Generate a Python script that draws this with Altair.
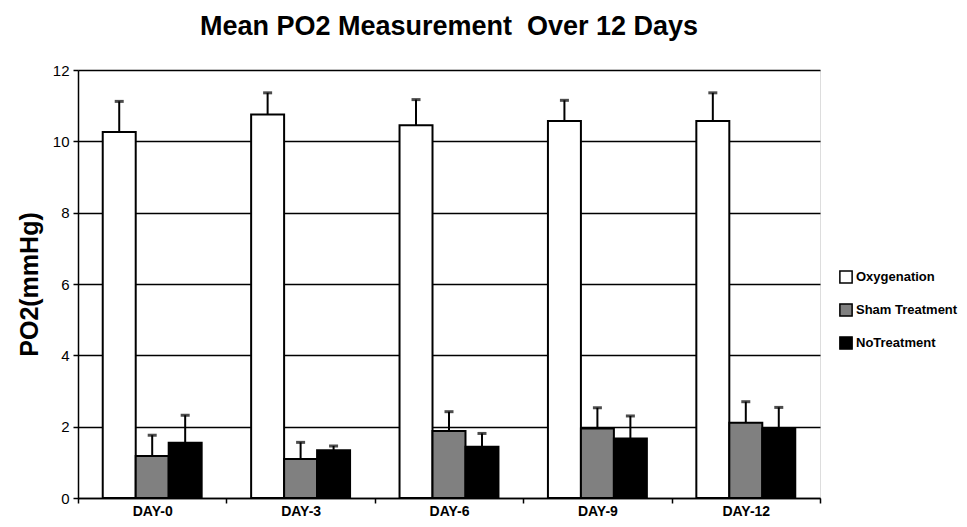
import altair as alt
import pandas as pd

days = ["DAY-0", "DAY-3", "DAY-6", "DAY-9", "DAY-12"]
groups = ["Oxygenation", "Sham Treatment", "NoTreatment"]
colors = ["#ffffff", "#808080", "#000000"]

oxy_mean = [10.26, 10.75, 10.45, 10.57, 10.57]
oxy_upper = [11.12, 11.36, 11.17, 11.15, 11.36]
sham_mean = [1.18, 1.09, 1.88, 1.95, 2.11]
sham_upper = [1.76, 1.56, 2.42, 2.53, 2.70]
none_mean = [1.55, 1.34, 1.44, 1.67, 1.95]
none_upper = [2.32, 1.46, 1.81, 2.30, 2.54]

y_ticks = [0, 2, 4, 6, 8, 10, 12]

rows = []
for g, means, uppers in zip(groups, [oxy_mean, sham_mean, none_mean],
                            [oxy_upper, sham_upper, none_upper]):
    for d, m, u in zip(days, means, uppers):
        rows.append({"day": d, "group": g, "mean": m, "upper": u})
df = pd.DataFrame(rows)

FONT = "Liberation Sans, Arial, sans-serif"

x_enc = alt.X("day:N", sort=days,
              scale=alt.Scale(paddingInner=0, paddingOuter=0),
              axis=alt.Axis(title=None, labelAngle=0, tickBand="extent",
                            tickSize=5, tickColor="black", tickWidth=1.5,
                            domainColor="black", domainWidth=1.5,
                            labelFont=FONT, labelFontSize=14,
                            labelFontWeight="bold", labelColor="black",
                            labelPadding=1))
xo_enc = alt.XOffset("group:N", sort=groups,
                     scale=alt.Scale(paddingOuter=0.75, paddingInner=0))
y_scale = alt.Scale(domain=[0, 12], nice=False)

base = alt.Chart(df).encode(x=x_enc, xOffset=xo_enc)

bars = base.mark_bar(stroke="black", strokeWidth=2).encode(
    y=alt.Y("mean:Q", scale=y_scale,
            axis=alt.Axis(values=y_ticks, grid=True, gridColor="black",
                          gridWidth=1.5, gridOpacity=1,
                          domainColor="black", domainWidth=1.5,
                          tickColor="black", tickSize=5, tickWidth=1.5,
                          labelFont=FONT, labelFontSize=15,
                          labelColor="black", labelPadding=4,
                          title="PO2(mmHg)", titleFont=FONT,
                          titleFontSize=25, titleFontWeight="bold",
                          titleColor="black", titlePadding=10)),
    color=alt.Color("group:N", sort=groups,
                    scale=alt.Scale(domain=groups, range=colors),
                    legend=alt.Legend(title=None, orient="none",
                                      legendX=761, legendY=200,
                                      symbolType="square", symbolSize=150,
                                      symbolStrokeColor="black",
                                      symbolStrokeWidth=1.5,
                                      symbolOpacity=1,
                                      labelFont=FONT, labelFontSize=13,
                                      labelFontWeight="bold",
                                      labelColor="black", labelOffset=3,
                                      rowPadding=13)),
)

err_line = base.mark_rule(color="black", strokeWidth=2).encode(
    y=alt.Y("mean:Q", scale=y_scale),
    y2="upper:Q",
)

err_cap = base.mark_tick(color="black", thickness=3, size=9).encode(
    y=alt.Y("upper:Q", scale=y_scale),
)

chart = alt.layer(bars, err_line, err_cap).properties(
    width=742,
    height=428,
    title=alt.Title("Mean PO2 Measurement\u00a0 Over 12 Days", font=FONT,
                    fontSize=27, fontWeight="bold", color="black",
                    anchor="middle", frame="group", offset=22),
    autosize=alt.AutoSizeParams(type="none"),
    padding={"left": 70, "top": 62, "right": 139, "bottom": 21},
).configure_view(stroke="black", strokeWidth=1.5).configure(background="white")

chart.save("out.html", embed_options={"renderer": "svg", "actions": False})
